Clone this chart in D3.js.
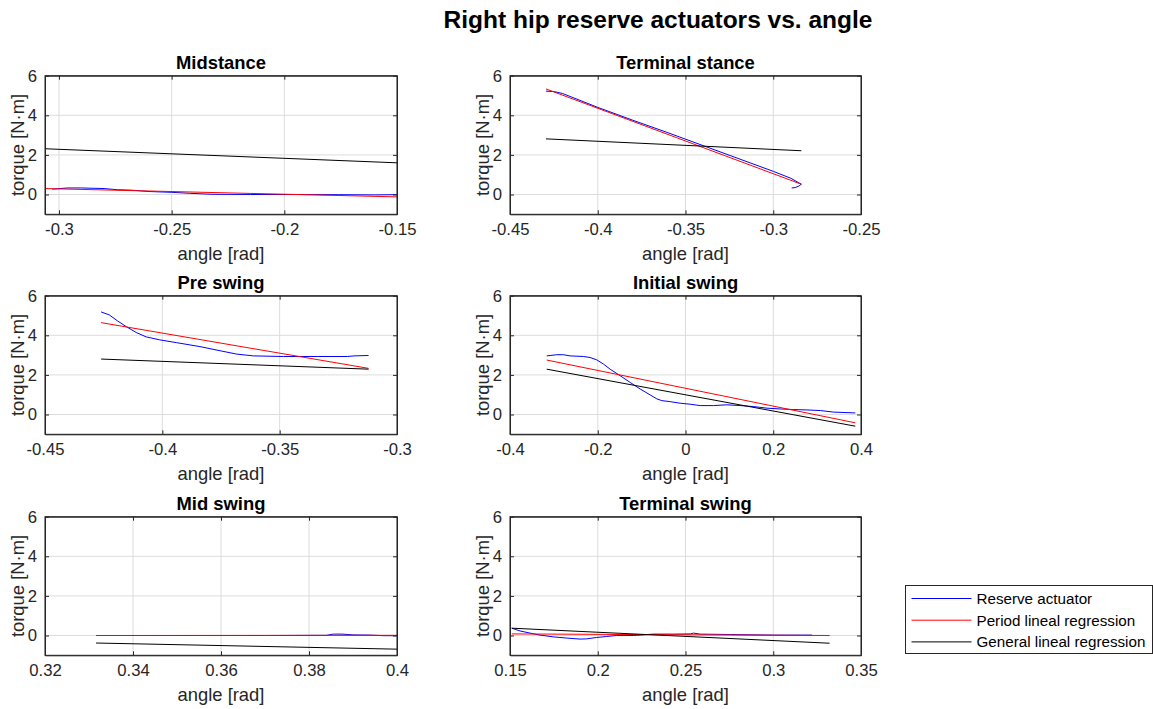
<!DOCTYPE html>
<html>
<head>
<meta charset="utf-8">
<script src="https://cdn.jsdelivr.net/npm/d3@7"></script>
<style>
  body { margin: 0; background: #fff; }
  text { font-family: "Liberation Sans", Arial, Helvetica, sans-serif; }
</style>
</head>
<body>
<div id="plot"></div>
<script>
// panel titles and axis ranges
const titles = ["Midstance", "Terminal stance", "Pre swing", "Initial swing", "Mid swing", "Terminal swing"];
const xDomains = [[-0.3062, -0.15], [-0.45, -0.25], [-0.45, -0.3], [-0.4, 0.4], [0.32, 0.4], [0.15, 0.35]];
const xTicks = [
  [-0.3, -0.25, -0.2, -0.15],
  [-0.45, -0.4, -0.35, -0.3, -0.25],
  [-0.45, -0.4, -0.35, -0.3],
  [-0.4, -0.2, 0, 0.2, 0.4],
  [0.32, 0.34, 0.36, 0.38, 0.4],
  [0.15, 0.2, 0.25, 0.3, 0.35]
];
const yTicks = [0, 2, 4, 6];
const seriesNames = ["Reserve actuator", "Period lineal regression", "General lineal regression"];

// reserve actuator (blue) per phase, [angle, torque]
const reserve = [
  [[-0.303,0.27],[-0.296,0.33],[-0.29,0.33],[-0.28,0.3],[-0.274,0.24],[-0.268,0.22],[-0.26,0.15],[-0.25,0.11],[-0.242,0.06],[-0.232,0.01],[-0.215,0.0],[-0.196,0.0],[-0.176,-0.01],[-0.16,-0.02],[-0.15,-0.01]],
  [[-0.4295,5.22],[-0.425,5.2],[-0.42,5.1],[-0.40,4.4],[-0.38,3.75],[-0.36,3.12],[-0.34,2.47],[-0.32,1.82],[-0.30,1.17],[-0.29,0.82],[-0.284,0.52],[-0.2855,0.42],[-0.2875,0.35],[-0.2895,0.33]],
  [[-0.4261,5.18],[-0.4226,5.03],[-0.419,4.72],[-0.4154,4.44],[-0.4111,4.14],[-0.4069,3.92],[-0.4011,3.77],[-0.394,3.63],[-0.384,3.43],[-0.3754,3.22],[-0.3683,3.05],[-0.3611,2.96],[-0.3483,2.93],[-0.334,2.93],[-0.3211,2.93],[-0.3183,2.96],[-0.3121,2.98]],
  [[-0.3163,2.96],[-0.2935,3.02],[-0.2783,3.02],[-0.2631,2.96],[-0.2327,2.93],[-0.2175,2.88],[-0.2023,2.76],[-0.1871,2.55],[-0.1719,2.29],[-0.149,1.96],[-0.1262,1.62],[-0.1034,1.29],[-0.0806,0.99],[-0.0654,0.79],[-0.054,0.70],[-0.035,0.65],[-0.0122,0.57],[0.0107,0.52],[0.0335,0.45],[0.0639,0.45],[0.0943,0.49],[0.1247,0.45],[0.1552,0.40],[0.1856,0.32],[0.216,0.28],[0.2464,0.25],[0.2768,0.23],[0.3073,0.2],[0.3377,0.12],[0.3871,0.08]],
  [[0.3316,0.0],[0.35,0.0],[0.37,0.0],[0.384,0.01],[0.3855,0.07],[0.3875,0.07],[0.39,0.03],[0.394,0.02],[0.397,-0.01],[0.4,-0.01]],
  [[0.151,0.37],[0.1557,0.23],[0.1614,0.12],[0.1671,0.02],[0.1747,-0.07],[0.1823,-0.13],[0.1899,-0.18],[0.1937,-0.17],[0.1994,-0.1],[0.2051,-0.05],[0.2108,0.0],[0.2203,0.0],[0.2241,0.02],[0.2318,0.07],[0.2432,0.07],[0.2527,0.08],[0.2546,0.12],[0.2584,0.07],[0.2755,0.05],[0.3002,0.02],[0.3116,0.02],[0.3221,0.02]]
];

// period lineal regression (red) end points
const periodFit = [
  [[-0.3062,0.30],[-0.15,-0.12]],
  [[-0.4295,5.33],[-0.284,0.52]],
  [[-0.4261,4.64],[-0.3121,2.33]],
  [[-0.3163,2.75],[0.3871,-0.42]],
  [[0.3316,0.0],[0.4,0.01]],
  [[0.151,0.08],[0.3321,0.0]]
];

// general lineal regression (black) end points
const generalFit = [
  [[-0.3062,2.31],[-0.15,1.6]],
  [[-0.4295,2.81],[-0.284,2.21]],
  [[-0.4261,2.80],[-0.3121,2.29]],
  [[-0.3163,2.29],[0.3871,-0.59]],
  [[0.3316,-0.38],[0.4,-0.69]],
  [[0.151,0.37],[0.3321,-0.39]]
];

const colors = ["#0000ff", "#ff0000", "#000000"];

const W = 1153, H = 709;
const colX = [45, 510], colW = [352, 351];
const rowY = [75.7, 295.7, 516.7], axH = 138.6;
const fmt = d => String(d);

const svg = d3.select("#plot")
  .append("svg")
    .attr("width", W)
    .attr("height", H);

svg.append("text")
  .attr("x", 658)
  .attr("y", 28)
  .attr("text-anchor", "middle")
  .style("font-size", "24.5px")
  .style("font-weight", "bold")
  .text("Right hip reserve actuators vs. angle");

titles.forEach((t, i) => {
  const c = i % 2, r = Math.floor(i / 2);
  const w = colW[c];
  const g = svg.append("g")
    .attr("transform", `translate(${colX[c]},${rowY[r]})`);

  const x = d3.scaleLinear().domain(xDomains[i]).range([0, w]);
  const y = d3.scaleLinear().domain([-1, 6]).range([axH, 0]);

  // grid
  g.selectAll(".gx").data(xTicks[i]).join("line")
    .attr("x1", d => x(d)).attr("x2", d => x(d))
    .attr("y1", 0).attr("y2", axH)
    .attr("stroke", "#dcdcdc").attr("stroke-width", 1);
  g.selectAll(".gy").data(yTicks).join("line")
    .attr("x1", 0).attr("x2", w)
    .attr("y1", d => y(d)).attr("y2", d => y(d))
    .attr("stroke", "#dcdcdc").attr("stroke-width", 1);

  const clip = "clip" + i;
  g.append("clipPath").attr("id", clip)
    .append("rect").attr("width", w).attr("height", axH);

  const line = d3.line().x(d => x(d[0])).y(d => y(d[1]));
  const lines = g.append("g").attr("clip-path", `url(#${clip})`);
  [reserve[i], periodFit[i], generalFit[i]].forEach((s, k) => {
    lines.append("path")
      .datum(s)
      .attr("d", line)
      .attr("fill", "none")
      .attr("stroke", colors[k])
      .attr("stroke-width", 1);
  });

  // axes with inward ticks
  g.append("g")
    .attr("transform", `translate(0,${axH})`)
    .call(d3.axisBottom(x).tickValues(xTicks[i]).tickSizeInner(-4).tickSizeOuter(0).tickPadding(9)
      .tickFormat(fmt));
  g.append("g")
    .call(d3.axisLeft(y).tickValues(yTicks).tickSizeInner(-4).tickSizeOuter(0).tickPadding(8)
      .tickFormat(fmt));
  g.append("g")
    .call(d3.axisTop(x).tickValues(xTicks[i]).tickSizeInner(-4).tickSizeOuter(0).tickFormat(""));
  g.append("g")
    .attr("transform", `translate(${w},0)`)
    .call(d3.axisRight(y).tickValues(yTicks).tickSizeInner(-4).tickSizeOuter(0).tickFormat(""));
  g.selectAll(".domain").attr("stroke", "#262626");
  g.selectAll(".tick line").attr("stroke", "#262626");
  g.selectAll(".tick text")
    .attr("fill", "#262626")
    .style("font-size", "16.7px")
    .style("font-family", "'Liberation Sans', Arial, sans-serif");

  g.append("rect")
    .attr("width", w).attr("height", axH)
    .attr("fill", "none").attr("stroke", "#262626").attr("stroke-width", 1);

  g.append("text")
    .attr("x", w / 2).attr("y", -7)
    .attr("text-anchor", "middle")
    .style("font-size", "18.4px")
    .style("font-weight", "bold")
    .text(t);

  g.append("text")
    .attr("x", w / 2).attr("y", axH + 46)
    .attr("text-anchor", "middle")
    .attr("fill", "#262626")
    .style("font-size", "18.4px")
    .text("angle [rad]");

  g.append("text")
    .attr("transform", `translate(${-21},${axH / 2}) rotate(-90)`)
    .attr("text-anchor", "middle")
    .attr("fill", "#262626")
    .style("font-size", "18.4px")
    .text("torque [N·m]");
});

// legend
const lg = svg.append("g").attr("transform", "translate(905.5,585.5)");
lg.append("rect")
  .attr("width", 247).attr("height", 68)
  .attr("fill", "#fff").attr("stroke", "#262626").attr("stroke-width", 1);
seriesNames.forEach((n, k) => {
  const yy = 13 + k * 21.7;
  lg.append("line")
    .attr("x1", 6).attr("x2", 66)
    .attr("y1", yy).attr("y2", yy)
    .attr("stroke", colors[k]).attr("stroke-width", 1);
  lg.append("text")
    .attr("x", 71).attr("y", yy + 5.5)
    .attr("fill", "#000")
    .style("font-size", "15.2px")
    .text(n);
});
</script>
</body>
</html>
